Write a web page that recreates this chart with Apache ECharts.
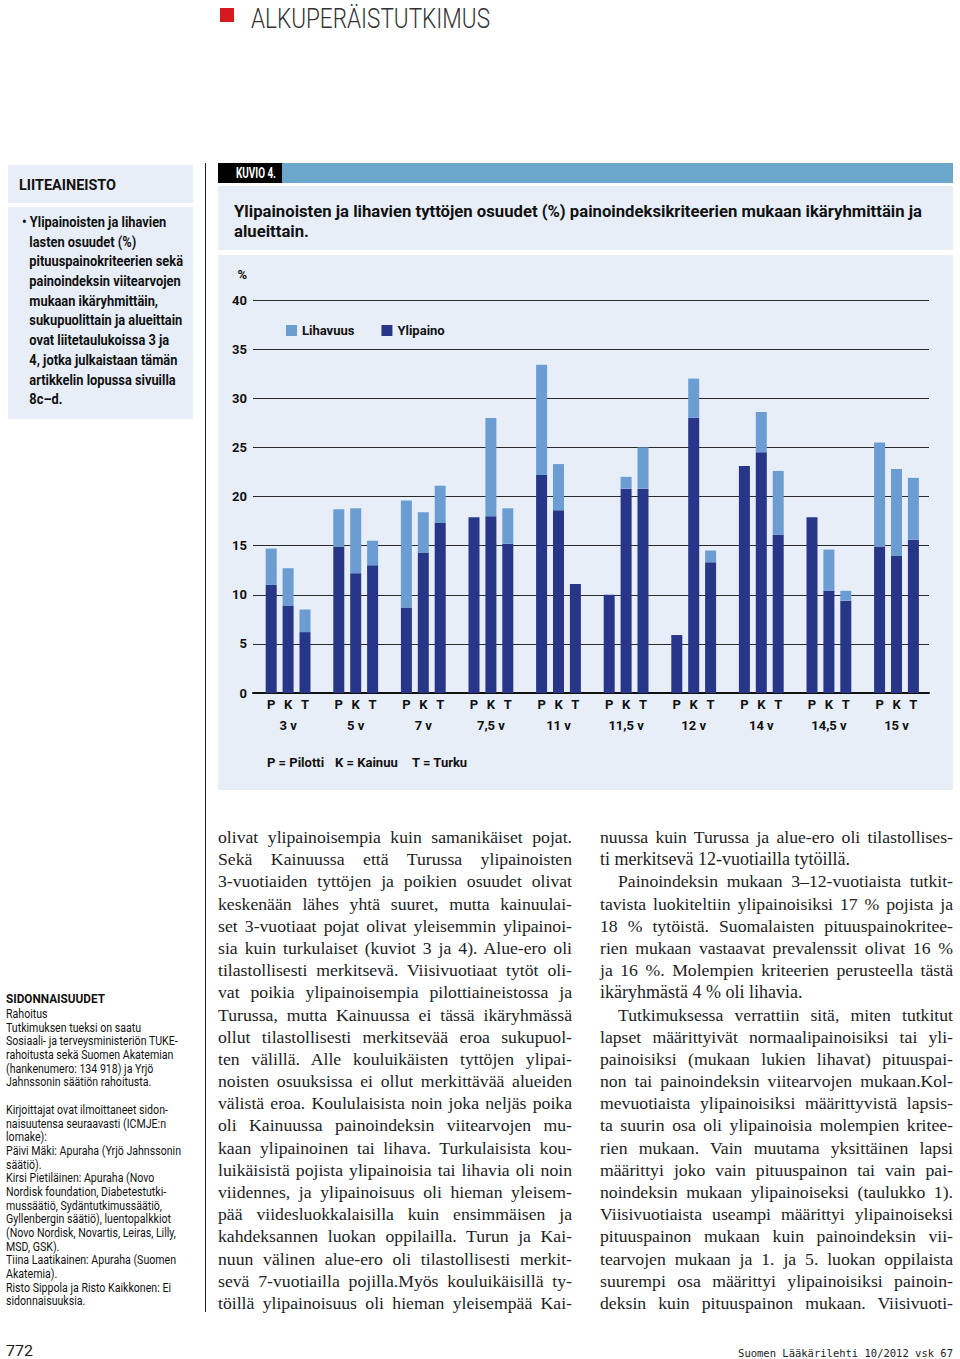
<!DOCTYPE html>
<html><head><meta charset="utf-8">
<script src="https://cdn.jsdelivr.net/npm/echarts@6/dist/echarts.min.js"></script>
<style>
html,body{margin:0;padding:0;background:#fff;}
body{width:960px;height:1359px;position:relative;overflow:hidden;}
.abs{position:absolute;}
.cond{font-family:Roboto,"Liberation Sans",sans-serif;}
.serif{font-family:"Liberation Serif","DejaVu Serif",serif;}
.col .ln{height:22.2px;line-height:22.2px;text-align:justify;text-align-last:justify;white-space:nowrap;}
.col .ln.last{text-align-last:left;}
.col .ln.ind{padding-left:18px;}
.lb div{height:19.7px;line-height:19.7px;white-space:nowrap;}
.sid div{height:13.7px;line-height:13.7px;white-space:nowrap;}
.fit{display:inline-block;white-space:nowrap;transform-origin:0 0;}
</style></head>
<body>
<!-- header -->
<div class="abs" style="left:220px;top:8px;width:14px;height:14px;background:#d7191f;"></div>
<div class="abs cond fit" data-w="239" style="left:251px;top:3px;font-size:28px;line-height:32px;color:#333;font-weight:300;">ALKUPERÄISTUTKIMUS</div>

<!-- left box -->
<div class="abs" style="left:8px;top:165px;width:185px;height:38px;background:#e7eef7;"></div>
<div class="abs cond fit" data-w="97" style="left:19px;top:176px;font-size:15px;line-height:18px;font-weight:bold;color:#111;">LIITEAINEISTO</div>
<div class="abs" style="left:8px;top:207px;width:185px;height:212px;background:#e7eef7;"></div>
<div class="abs cond lb fit" data-w="161" style="left:22px;top:213px;font-size:14px;font-weight:bold;color:#111;">
<div>• Ylipainoisten ja lihavien</div>
<div style="padding-left:8px">lasten osuudet (%)</div>
<div style="padding-left:8px">pituuspainokriteerien sekä</div>
<div style="padding-left:8px">painoindeksin viitearvojen</div>
<div style="padding-left:8px">mukaan ikäryhmittäin,</div>
<div style="padding-left:8px">sukupuolittain ja alueittain</div>
<div style="padding-left:8px">ovat liitetaulukoissa 3 ja</div>
<div style="padding-left:8px">4, jotka julkaistaan tämän</div>
<div style="padding-left:8px">artikkelin lopussa sivuilla</div>
<div style="padding-left:8px">8c–d.</div>
</div>

<!-- vertical rule -->
<div class="abs" style="left:205px;top:163px;width:1px;height:1149px;background:#222;"></div>

<!-- figure header -->
<div class="abs" style="left:218px;top:163px;width:735px;height:20px;background:#6ba6cb;"></div>
<div class="abs" style="left:218px;top:163px;width:64px;height:20px;background:#000;"></div>
<div class="abs cond fit" data-w="40" style="left:236px;top:165px;color:#fff;font-size:14px;font-weight:bold;line-height:16px;">KUVIO 4.</div>
<div class="abs" style="left:218px;top:186px;width:735px;height:64px;background:#e7eef7;"></div>
<div class="abs cond fit" data-w="688" style="left:234px;top:202px;font-size:16px;font-weight:bold;line-height:20px;color:#111;"><div>Ylipainoisten ja lihavien tyttöjen osuudet (%) painoindeksikriteerien mukaan ikäryhmittäin ja</div><div>alueittain.</div></div>

<!-- chart -->
<div id="chart" class="abs" style="left:218px;top:255px;width:735px;height:535px;"></div>

<!-- body text -->
<div class="abs serif col" style="left:218px;top:826px;width:354px;font-size:18px;color:#222;">
<div class="ln">olivat ylipainoisempia kuin samanikäiset pojat.</div>
<div class="ln">Sekä Kainuussa että Turussa ylipainoisten</div>
<div class="ln">3-vuotiaiden tyttöjen ja poikien osuudet olivat</div>
<div class="ln">keskenään lähes yhtä suuret, mutta kainuulai-</div>
<div class="ln">set 3-vuotiaat pojat olivat yleisemmin ylipainoi-</div>
<div class="ln">sia kuin turkulaiset (kuviot 3 ja 4). Alue-ero oli</div>
<div class="ln">tilastollisesti merkitsevä. Viisivuotiaat tytöt oli-</div>
<div class="ln">vat poikia ylipainoisempia pilottiaineistossa ja</div>
<div class="ln">Turussa, mutta Kainuussa ei tässä ikäryhmässä</div>
<div class="ln">ollut tilastollisesti merkitsevää eroa sukupuol-</div>
<div class="ln">ten välillä. Alle kouluikäisten tyttöjen ylipai-</div>
<div class="ln">noisten osuuksissa ei ollut merkittävää alueiden</div>
<div class="ln">välistä eroa. Koululaisista noin joka neljäs poika</div>
<div class="ln">oli Kainuussa painoindeksin viitearvojen mu-</div>
<div class="ln">kaan ylipainoinen tai lihava. Turkulaisista kou-</div>
<div class="ln">luikäisistä pojista ylipainoisia tai lihavia oli noin</div>
<div class="ln">viidennes, ja ylipainoisuus oli hieman yleisem-</div>
<div class="ln">pää viidesluokkalaisilla kuin ensimmäisen ja</div>
<div class="ln">kahdeksannen luokan oppilailla. Turun ja Kai-</div>
<div class="ln">nuun välinen alue-ero oli tilastollisesti merkit-</div>
<div class="ln">sevä 7-vuotiailla pojilla.Myös kouluikäisillä ty-</div>
<div class="ln">töillä ylipainoisuus oli hieman yleisempää Kai-</div>
</div>
<div class="abs serif col" style="left:600px;top:826px;width:353px;font-size:18px;color:#222;">
<div class="ln">nuussa kuin Turussa ja alue-ero oli tilastollises-</div>
<div class="ln last">ti merkitsevä 12-vuotiailla tytöillä.</div>
<div class="ln ind">Painoindeksin mukaan 3–12-vuotiaista tutkit-</div>
<div class="ln">tavista luokiteltiin ylipainoisiksi 17 % pojista ja</div>
<div class="ln">18 % tytöistä. Suomalaisten pituuspainokritee-</div>
<div class="ln">rien mukaan vastaavat prevalenssit olivat 16 %</div>
<div class="ln">ja 16 %. Molempien kriteerien perusteella tästä</div>
<div class="ln last">ikäryhmästä 4 % oli lihavia.</div>
<div class="ln ind">Tutkimuksessa verrattiin sitä, miten tutkitut</div>
<div class="ln">lapset määrittyivät normaalipainoisiksi tai yli-</div>
<div class="ln">painoisiksi (mukaan lukien lihavat) pituuspai-</div>
<div class="ln">non tai painoindeksin viitearvojen mukaan.Kol-</div>
<div class="ln">mevuotiaista ylipainoisiksi määrittyvistä lapsis-</div>
<div class="ln">ta suurin osa oli ylipainoisia molempien kritee-</div>
<div class="ln">rien mukaan. Vain muutama yksittäinen lapsi</div>
<div class="ln">määrittyi joko vain pituuspainon tai vain pai-</div>
<div class="ln">noindeksin mukaan ylipainoiseksi (taulukko 1).</div>
<div class="ln">Viisivuotiaista useampi määrittyi ylipainoiseksi</div>
<div class="ln">pituuspainon mukaan kuin painoindeksin vii-</div>
<div class="ln">tearvojen mukaan ja 1. ja 5. luokan oppilaista</div>
<div class="ln">suurempi osa määrittyi ylipainoisiksi painoin-</div>
<div class="ln">deksin kuin pituuspainon mukaan. Viisivuoti-</div>
</div>

<!-- sidonnaisuudet -->
<div class="abs cond fit" data-w="99" style="left:6px;top:991px;font-size:13px;line-height:15px;font-weight:bold;color:#111;">SIDONNAISUUDET</div>
<div class="abs cond sid fit" data-w="175" style="left:6px;top:1008px;font-size:12px;color:#111;">
<div>Rahoitus</div>
<div>Tutkimuksen tueksi on saatu</div>
<div>Sosiaali- ja terveysministeriön TUKE-</div>
<div>rahoitusta sekä Suomen Akatemian</div>
<div>(hankenumero: 134 918) ja Yrjö</div>
<div>Jahnssonin säätiön rahoitusta.</div>
<div></div>
<div>Kirjoittajat ovat ilmoittaneet sidon-</div>
<div>naisuutensa seuraavasti (ICMJE:n</div>
<div>lomake):</div>
<div>Päivi Mäki: Apuraha (Yrjö Jahnssonin</div>
<div>säätiö).</div>
<div>Kirsi Pietiläinen: Apuraha (Novo</div>
<div>Nordisk foundation, Diabetestutki-</div>
<div>mussäätiö, Sydäntutkimussäätiö,</div>
<div>Gyllenbergin säätiö), luentopalkkiot</div>
<div>(Novo Nordisk, Novartis, Leiras, Lilly,</div>
<div>MSD, GSK).</div>
<div>Tiina Laatikainen: Apuraha (Suomen</div>
<div>Akatemia).</div>
<div>Risto Sippola ja Risto Kaikkonen: Ei</div>
<div>sidonnaisuuksia.</div>
</div>

<!-- footer -->
<div class="abs cond fit" data-w="27" style="left:6px;top:1343px;font-size:15px;line-height:17px;color:#222;">772</div>
<div class="abs" style="right:7px;top:1346px;font-family:'DejaVu Sans Mono',monospace;font-size:10.5px;line-height:14px;color:#222;">Suomen Lääkärilehti 10/2012 vsk 67</div>

<script>
// ---- data ----
const groups = ['3 v','5 v','7 v','7,5 v','11 v','11,5 v','12 v','14 v','14,5 v','15 v'];
const regions = ['P','K','T'];
const ylipainoP = [11.0, 14.9, 8.7, 17.9, 22.2, 10.0, 5.9, 23.1, 17.9, 14.9];
const ylipainoK = [8.9, 12.2, 14.3, 18.0, 18.6, 20.8, 28.0, 24.5, 10.4, 14.0];
const ylipainoT = [6.2, 13.0, 17.3, 15.2, 11.1, 20.8, 13.3, 16.1, 9.4, 15.6];
const lihavuusP = [3.7, 3.8, 10.9, 0, 11.2, 0, 0, 0, 0, 10.6];
const lihavuusK = [3.8, 6.6, 4.1, 10.0, 4.7, 1.2, 4.0, 4.1, 4.2, 8.8];
const lihavuusT = [2.3, 2.5, 3.8, 3.6, 0, 4.2, 1.2, 6.5, 1.0, 6.3];
const yTicks = [0, 5, 10, 15, 20, 25, 30, 35, 40];
const legendNames = ['Lihavuus', 'Ylipaino'];
const footnote = ['P = Pilotti', 'K = Kainuu', 'T = Turku'];

// ---- fit condensed HTML text to the reference widths ----
document.querySelectorAll('.fit').forEach(el => {
  const w = el.getBoundingClientRect().width;
  const t = parseFloat(el.dataset.w);
  if (w > 0 && t) el.style.transform = 'scaleX(' + (t / w) + ')';
});
// shrink body lines that would overflow their column
document.querySelectorAll('.col .ln').forEach(ln => {
  const avail = ln.clientWidth - (parseFloat(getComputedStyle(ln).paddingLeft) || 0);
  const span = document.createElement('span');
  span.textContent = ln.textContent;
  span.style.whiteSpace = 'nowrap';
  ln.textContent = '';
  ln.appendChild(span);
  const w = span.getBoundingClientRect().width;
  ln.textContent = span.textContent;
  if (w > avail - 4) {
    const fs = parseFloat(getComputedStyle(ln).fontSize);
    ln.style.fontSize = (fs * (avail - 6) / w) + 'px';
  }
});

// ---- build slot categories: P K T gap ... ----
const COND = 'Roboto,"Liberation Sans",sans-serif';
const DARK = '#283689', LIGHT = '#6b9dd3';
const yl = [ylipainoP, ylipainoK, ylipainoT];
const li = [lihavuusP, lihavuusK, lihavuusT];
const slots = [], slotLabel = [], darkData = [], lightData = [];
groups.forEach((g, gi) => {
  regions.forEach((r, ri) => {
    slots.push(g + '|' + r);
    slotLabel.push(ri === 1 ? r + '\n' + g : r);
    darkData.push(yl[ri][gi]);
    lightData.push(li[ri][gi]);
  });
  if (gi < groups.length - 1) {
    slots.push(g + '|gap');
    slotLabel.push('');
    darkData.push('-');
    lightData.push('-');
  }
});

const chart = echarts.init(document.getElementById('chart'), null, {renderer: 'svg'});
const gridTop = 45, gridH = 393;
chart.setOption({
  backgroundColor: '#e7eef7',
  animation: false,
  textStyle: {fontFamily: COND},
  legend: {
    data: legendNames, left: 63, top: 64, itemWidth: 11, itemHeight: 11, itemGap: 27,
    icon: 'rect', selectedMode: false,
    textStyle: {fontFamily: COND, fontSize: 13, fontWeight: 'bold', color: '#111'}
  },
  grid: [
    {left: 35, right: 24, top: gridTop, height: gridH},
    {left: 44.75, right: 31.15, top: gridTop, height: gridH}
  ],
  xAxis: [
    {gridIndex: 0, type: 'category', data: ['all'], axisLine: {lineStyle: {color: '#111', width: 2}},
     axisTick: {show: false}, axisLabel: {show: false}},
    {gridIndex: 1, type: 'category', data: slots, axisLine: {show: false}, axisTick: {show: false},
     axisLabel: {interval: 0, margin: 1, fontFamily: COND, fontSize: 13, fontWeight: 'bold', color: '#111',
       lineHeight: 21, formatter: (v, i) => slotLabel[i]}}
  ],
  yAxis: [
    {gridIndex: 0, type: 'value', min: yTicks[0], max: yTicks[yTicks.length - 1], interval: 5,
     name: '%', nameLocation: 'end', nameGap: 26,
     nameTextStyle: {fontFamily: COND, fontSize: 13, fontWeight: 'bold', color: '#111', align: 'right', verticalAlign: 'middle', padding: [0, 6, 0, 0]},
     axisLine: {show: false}, axisTick: {show: false},
     axisLabel: {margin: 6, fontFamily: COND, fontSize: 13, fontWeight: 'bold', color: '#111'},
     splitLine: {lineStyle: {color: '#2a2a2a', width: 1}}},
    {gridIndex: 1, type: 'value', min: yTicks[0], max: yTicks[yTicks.length - 1], interval: 5, show: false,
     splitLine: {show: false}}
  ],
  series: [
    {name: 'Ylipaino', type: 'bar', xAxisIndex: 1, yAxisIndex: 1, stack: 's', barWidth: 11,
     data: darkData, itemStyle: {color: DARK}},
    {name: 'Lihavuus', type: 'bar', xAxisIndex: 1, yAxisIndex: 1, stack: 's', barWidth: 11,
     data: lightData, itemStyle: {color: LIGHT}}
  ],
  graphic: footnote.map((t, i) => ({
    type: 'text', left: [49, 117, 194][i], top: 501,
    style: {text: t, font: 'bold 13px ' + COND, fill: '#111'}
  }))
});
</script>
</body></html>
